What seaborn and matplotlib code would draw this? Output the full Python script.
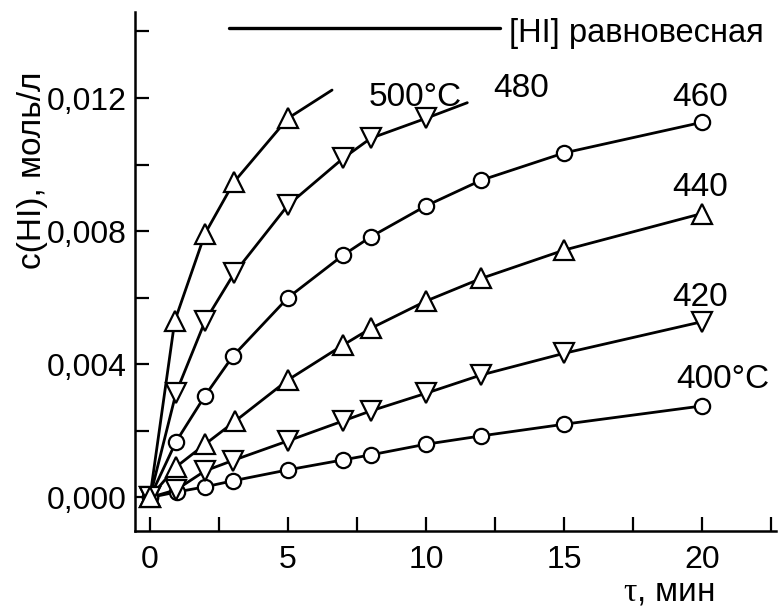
import numpy as np
import pandas as pd
import matplotlib
matplotlib.use("Agg")
import matplotlib.pyplot as plt
import seaborn as sns
from matplotlib.ticker import FixedLocator, FuncFormatter

# time (min) and c(HI) (mol/l) for each temperature
t400 = [0, 1, 2, 3, 5, 7, 8, 10, 12, 15, 20]
c400 = [0, 0.00017, 0.00032, 0.0005, 0.00083, 0.00113, 0.00128, 0.0016, 0.00185, 0.0022, 0.00275]
t420 = [0, 0.95, 2, 3, 5, 7, 8, 10, 12, 15, 20]
c420 = [0, 0.00023, 0.0008, 0.00111, 0.0017, 0.0023, 0.0026, 0.00313, 0.00368, 0.00433, 0.00528]
t440 = [0, 0.95, 2, 3.1, 5, 7, 8, 10, 12, 15, 20]
c440 = [0, 0.00092, 0.0016, 0.0023, 0.00353, 0.00458, 0.00508, 0.0059, 0.00658, 0.00743, 0.00853]
t460 = [0, 0.95, 2, 3, 5, 7, 8, 10, 12, 15, 20]
c460 = [0, 0.00168, 0.00306, 0.00424, 0.006, 0.00728, 0.00783, 0.00876, 0.00953, 0.01035, 0.01127]
t480 = [0, 0.95, 2, 3.05, 5, 7, 8, 10]
c480 = [0, 0.00315, 0.0053, 0.00673, 0.00878, 0.01019, 0.01079, 0.01139]
t500 = [0, 0.9, 2, 3.05, 5]
c500 = [0, 0.0053, 0.00793, 0.00948, 0.01139]

# where the drawn curves of 480 and 500 end beyond the last point
t480_end, c480_end = 11.5, 0.01186
t500_end, c500_end = 6.6, 0.01224

# equilibrium line
eq_t = [2.86, 12.7]
eq_c = [0.0141, 0.0141]

series = [
    (t400, c400, "o", None, None),
    (t420, c420, "v", None, None),
    (t440, c440, "^", None, None),
    (t460, c460, "o", None, None),
    (t480, c480, "v", t480_end, c480_end),
    (t500, c500, "^", t500_end, c500_end),
]

labels = ["400°C", "420", "440", "460", "480", "500°C"]
label_pos = [(20.75, 0.00353), (19.95, 0.006), (19.95, 0.0093),
             (19.95, 0.01203), (13.45, 0.0123), (9.6, 0.01203)]

sns.set_style("ticks")
plt.rcParams['font.family'] = ['Liberation Sans', 'DejaVu Sans']
plt.rcParams['mathtext.fontset'] = 'custom'
plt.rcParams['mathtext.rm'] = 'Liberation Serif'
plt.rcParams['text.color'] = 'black'
plt.rcParams['axes.labelcolor'] = 'black'
plt.rcParams['xtick.color'] = 'black'
plt.rcParams['ytick.color'] = 'black'
plt.rcParams['axes.edgecolor'] = 'black'

fig = plt.figure(figsize=(7.78, 6.08), dpi=100)
ax = fig.add_axes([0.1735, 0.127, 0.8245, 0.853])

for t, c, m, te, ce in series:
    lt = list(t) + ([te] if te is not None else [])
    lc = list(c) + ([ce] if ce is not None else [])
    sns.lineplot(x=lt, y=lc, ax=ax, color="black", linewidth=2.0, sort=False, zorder=2)
for t, c, m, te, ce in series:
    size = 11 if m == "o" else 15
    ax.plot(t, c, linestyle="none", marker=m, markersize=size, markerfacecolor="white",
            markeredgecolor="black", markeredgewidth=1.6, zorder=3)

sns.lineplot(x=eq_t, y=eq_c, ax=ax, color="black", linewidth=2.4)
ax.text(13.0, 0.01395, "[HI] равновесная", fontsize=23.5, va="center", ha="left")

for lab, (x, y) in zip(labels, label_pos):
    ax.text(x, y, lab, fontsize=24, ha="center", va="center")

ax.set_xlim(-0.54, 22.7)
ax.set_ylim(-0.001, 0.01458)
sns.despine(ax=ax)
for s in ["left", "bottom"]:
    ax.spines[s].set_linewidth(1.8)

ax.xaxis.set_major_locator(FixedLocator([0, 5, 10, 15, 20]))
ax.xaxis.set_minor_locator(FixedLocator([2.5, 7.5, 12.5, 17.5, 22.5]))
ax.yaxis.set_major_locator(FixedLocator([0, 0.004, 0.008, 0.012]))
ax.yaxis.set_minor_locator(FixedLocator([0.002, 0.006, 0.010, 0.014]))
ax.yaxis.set_major_formatter(FuncFormatter(lambda v, p: f"{v:.3f}".replace(".", ",")))
ax.tick_params(which="both", direction="in", length=10, width=1.6, labelsize=23)
ax.tick_params(axis="x", which="both", pad=10)
ax.tick_params(axis="y", which="both", pad=6)

ax.set_ylabel("c(HI), моль/л", fontsize=24)
ax.yaxis.set_label_coords(-0.135, 0.695)
ax.set_xlabel(r"$\mathrm{\tau}$, мин", fontsize=24)
ax.xaxis.label.set_va("baseline")
ax.xaxis.set_label_coords(0.832, -0.135)

plt.savefig("out.png", dpi=100)
